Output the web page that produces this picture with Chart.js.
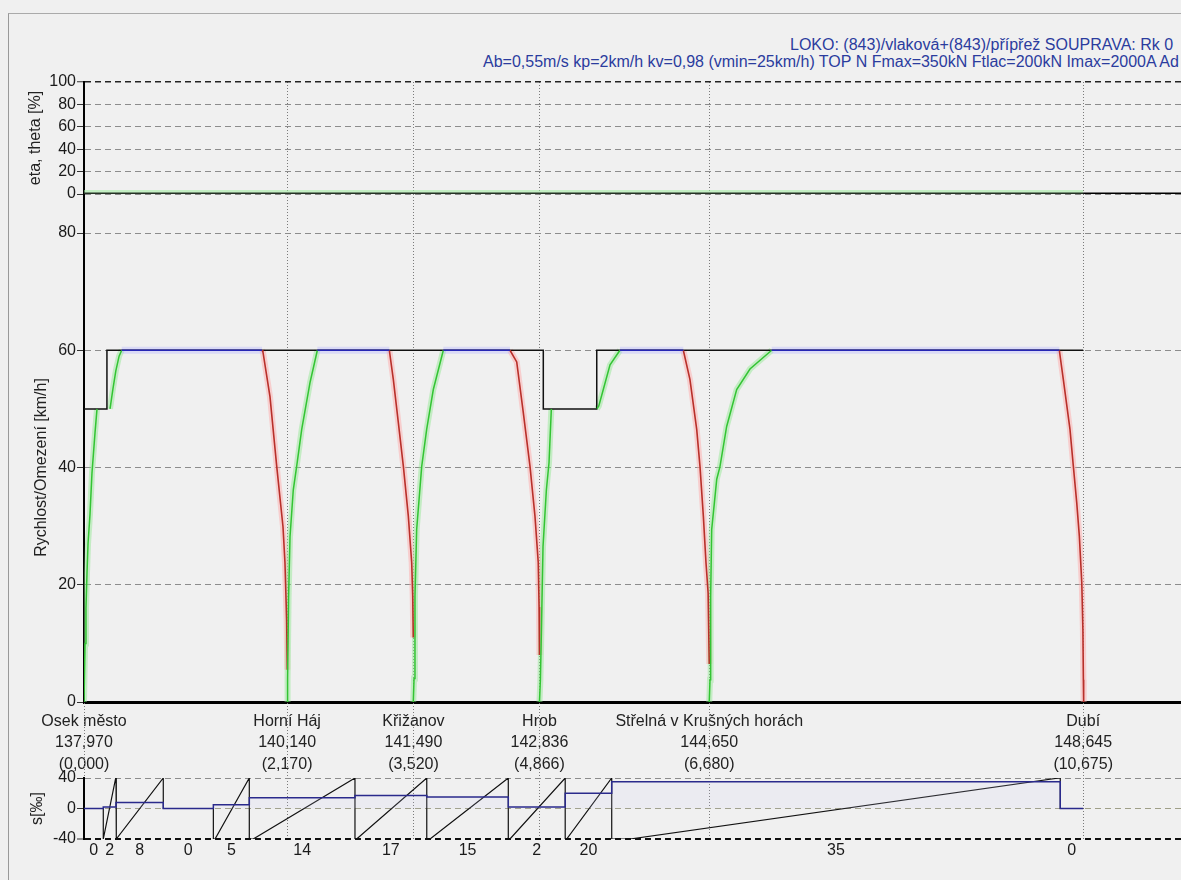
<!DOCTYPE html>
<html>
<head>
<meta charset="utf-8">
<script src="https://cdn.jsdelivr.net/npm/chart.js@4.4.1/dist/chart.umd.min.js"></script>
<style>
  body { margin: 0; background: #f0f0f0; }
  #wrap { position: relative; width: 1181px; height: 880px; overflow: hidden; background: #f0f0f0; font-family: 'Liberation Sans', Arial, sans-serif; }
  #frame { position: absolute; left: 8px; top: 13px; right: -10px; bottom: -10px; border-left: 1px solid #999; border-top: 1px solid #aaa; }
  .head { position: absolute; white-space: nowrap; color: #2b3c9e; font-size: 16px; line-height: 17px; }
  canvas { position: absolute; left: 0; }
</style>
</head>
<body>
<div id="wrap">
  <div id="frame"></div>
  <div class="head" style="left:790px;top:36px">LOKO: (843)/vlaková+(843)/přípřež SOUPRAVA: Rk 0</div>
  <div class="head" style="left:483px;top:53px">Ab=0,55m/s kp=2km/h kv=0,98 (vmin=25km/h) TOP N Fmax=350kN Ftlac=200kN Imax=2000A Ad</div>
  <canvas id="eta" width="1181" height="148" style="top:60px"></canvas>
  <canvas id="speed" width="1181" height="524" style="top:194px"></canvas>
  <canvas id="grad" width="1181" height="177" style="top:703px"></canvas>
</div>
<script>
// x axis is the distance from the start in km
const XMAX = 11.72;

const stationNames = ['Osek město', 'Horní Háj', 'Křižanov', 'Hrob', 'Střelná v Krušných horách', 'Dubí'];
const stationKm = [0, 2.170, 3.520, 4.866, 6.680, 10.675];
const stationChainage = ['137,970', '140,140', '141,490', '142,836', '144,650', '148,645'];

// speed limit (black), each value holds until the next km
const limitKm = [0, 0.245, 4.907, 5.478, 10.675];
const limitV = [50, 60, 50, 60, 60];

// running at 60 km/h (blue)
const cruiseFrom = [0.403, 2.493, 3.839, 5.726, 7.347];
const cruiseTo = [1.902, 3.262, 4.551, 6.403, 10.420];

// accelerating (green)
const acc1Km = [0, 0.011, 0.021, 0.032, 0.043, 0.064, 0.085, 0.118, 0.139];
const acc1V = [0, 10, 16, 22, 27, 32, 39, 46, 50];
const acc2Km = [0.278, 0.310, 0.340, 0.375, 0.403];
const acc2V = [50, 53.5, 56.5, 59, 60];
const acc3Km = [2.172, 2.175, 2.186, 2.201, 2.236, 2.272, 2.326, 2.415, 2.493];
const acc3V = [0, 4, 18, 28.2, 36.2, 40.2, 46.5, 54.5, 60];
const acc4Km = [3.518, 3.526, 3.536, 3.554, 3.608, 3.661, 3.732, 3.839];
const acc4V = [0, 4, 18, 29.4, 40.2, 46.5, 53.3, 60];
const acc5Km = [4.866, 4.876, 4.887, 4.904, 4.940, 4.968, 4.993];
const acc5V = [0, 3.8, 12.3, 26.5, 36.2, 40.8, 50];
const acc6Km = [5.480, 5.500, 5.548, 5.620, 5.726];
const acc6V = [50, 50.5, 53.3, 57.5, 60];
const acc7Km = [6.680, 6.688, 6.695, 6.706, 6.760, 6.795, 6.866, 6.973, 7.115, 7.347];
const acc7V = [0, 3.8, 18, 29.4, 38, 40.2, 47, 53.3, 56.8, 60];

// braking (red)
const brk1Km = [1.902, 1.912, 1.987, 2.059, 2.126, 2.147, 2.165, 2.172];
const brk1V = [60, 59.7, 52.1, 40.2, 29.9, 23.8, 14, 5.5];
const brk2Km = [3.262, 3.305, 3.358, 3.412, 3.465, 3.501, 3.512, 3.518];
const brk2V = [60, 55, 47.7, 40.2, 31.7, 23.8, 18, 11];
const brk3Km = [4.551, 4.623, 4.693, 4.765, 4.818, 4.853, 4.862, 4.866];
const brk3V = [60, 58, 49.4, 40.2, 31.7, 23.8, 16.2, 8];
const brk4Km = [6.403, 6.474, 6.546, 6.581, 6.617, 6.645, 6.668, 6.680];
const brk4V = [60, 55, 46.5, 40.2, 31.7, 23.8, 18.6, 6.5];
const brk5Km = [10.420, 10.463, 10.534, 10.570, 10.606, 10.634, 10.660, 10.672, 10.677, 10.680];
const brk5V = [60, 55, 46.5, 40.2, 34, 28.3, 20.3, 12.3, 3.8, 0];

// eta / theta
const etaKm = [0, 10.675];
const etaVal = [0, 0];
const thetaKm = [10.675, XMAX];
const thetaVal = [0, 0];

// gradient s [promile] per section
const gradKm = [0, 0.206, 0.342, 0.847, 1.382, 1.766, 2.895, 3.662, 4.533, 5.141, 5.638, 10.43, 10.675];
const gradValue = [0, 2, 8, 0, 5, 14, 17, 15, 2, 20, 35, 0];

// the black saw line in the gradient panel
const profKm = [0, 0.206, 0.206, 0.339, 0.342, 0.342, 0.348, 0.847, 0.847, 1.382, 1.382, 1.400, 1.766, 1.766,
  1.808, 2.895, 2.895, 2.913, 3.662, 3.662, 3.697, 4.533, 4.533, 4.551, 5.141, 5.141, 5.157, 5.638, 5.638,
  5.833, 10.417, 10.43, 10.43, 10.675];
const profS = [0, 0, -40, 40, 40, -40, -40, 40, 0, 0, -40, -40, 40, -40,
  -40, 40, -40, -40, 40, -40, -40, 40, -40, -40, 40, -40, -40, 40, -40,
  -40, 40, 40, 0, 0];

Chart.defaults.font.family = "'Liberation Sans', Arial, sans-serif";
Chart.defaults.font.size = 16;
Chart.defaults.color = '#1a1a1a';
Chart.defaults.animation = false;
Chart.defaults.responsive = false;
Chart.defaults.plugins.legend.display = false;
Chart.defaults.plugins.tooltip.enabled = false;

const pts = (xs, ys) => xs.map((x, i) => ({ x: x, y: ys[i] }));

function ds(data, color, width, extra) {
  return Object.assign({
    data: data, borderColor: color, borderWidth: width,
    pointRadius: 0, fill: false, tension: 0
  }, extra || {});
}

// station lines continue outside the plot area (through the label band)
const extendLines = {
  id: 'extendLines',
  afterDraw(chart, args, opts) {
    const { ctx, chartArea } = chart;
    const xs = chart.scales[opts.xAxis || 'x'];
    ctx.save();
    ctx.strokeStyle = '#7a7a7a';
    ctx.lineWidth = 1;
    ctx.setLineDash([1, 2]);
    stationKm.forEach(km => {
      const px = Math.round(xs.getPixelForValue(km)) + 0.5;
      if (opts.up) {
        ctx.beginPath();
        ctx.moveTo(px, chartArea.top - opts.up);
        ctx.lineTo(px, chartArea.top);
        ctx.stroke();
      }
    });
    if (opts.axisUp) {
      ctx.setLineDash([]);
      ctx.strokeStyle = '#000';
      ctx.lineWidth = 2;
      ctx.beginPath();
      ctx.moveTo(chartArea.left, chartArea.top - opts.axisUp);
      ctx.lineTo(chartArea.left, chartArea.top);
      ctx.stroke();
    }
    ctx.restore();
  }
};

function yAxis(min, max, step, title, titlePad, gridColor, gridWidth) {
  return {
    min: min, max: max,
    ticks: { stepSize: step, padding: 1 },
    grid: { color: gridColor, lineWidth: gridWidth || 1, tickLength: 7, tickColor: '#333', tickWidth: 1 },
    border: { display: true, color: '#000', width: 2, dash: [6, 4] },
    title: { display: true, text: title, color: '#222', padding: { top: titlePad, bottom: 0 } },
    afterFit: s => { s.width = 84; }
  };
}

function stationAxis(borderShow) {
  return {
    type: 'linear', min: 0, max: XMAX,
    afterBuildTicks: s => { s.ticks = stationKm.map(v => ({ value: v })); },
    ticks: { display: false },
    grid: { color: '#7a7a7a', lineWidth: 1, drawTicks: false },
    border: { display: borderShow, color: '#000', width: 3, dash: [1, 2] },
    afterFit: s => { s.height = 0; }
  };
}

// eta, theta panel
new Chart(document.getElementById('eta'), {
  type: 'line',
  data: {
    datasets: [
      ds(pts(thetaKm, thetaVal), '#000', 3),
      ds(pts(etaKm, etaVal), '#263226', 3),
      ds(pts(etaKm, etaVal), 'rgba(160,238,160,0.55)', 8)
    ]
  },
  options: {
    layout: { padding: { top: 22, bottom: 14, left: 0, right: 0 } },
    scales: {
      x: stationAxis(false),
      y: yAxis(0, 100, 20, 'eta, theta [%]', 26,
        c => c.tick.value === 100 ? '#222' : '#8c8c8c',
        c => c.tick.value === 100 ? 1.5 : 1)
    }
  }
});

// speed panel
const accel = [[acc1Km, acc1V], [acc2Km, acc2V], [acc3Km, acc3V], [acc4Km, acc4V], [acc5Km, acc5V], [acc6Km, acc6V], [acc7Km, acc7V]];
const brakes = [[brk1Km, brk1V], [brk2Km, brk2V], [brk3Km, brk3V], [brk4Km, brk4V], [brk5Km, brk5V]];
const cruise = cruiseFrom.map((a, i) => [[a, cruiseTo[i]], [60, 60]]);

const speedSets = [];
cruise.forEach(c => speedSets.push(ds(pts(c[0], c[1]), '#2626b4', 1.5)));
accel.forEach(c => speedSets.push(ds(pts(c[0], c[1]), '#33c433', 1.5)));
brakes.forEach(c => speedSets.push(ds(pts(c[0], c[1]), '#b8302a', 1.6)));
speedSets.push(ds(pts(limitKm, limitV), '#111', 1.5, { stepped: true }));
cruise.forEach(c => speedSets.push(ds(pts(c[0], c[1]), 'rgba(185,185,255,0.4)', 7)));
accel.forEach(c => speedSets.push(ds(pts(c[0], c[1]), 'rgba(140,230,140,0.45)', 6)));
brakes.forEach(c => speedSets.push(ds(pts(c[0], c[1]), 'rgba(255,165,165,0.45)', 6)));

new Chart(document.getElementById('speed'), {
  type: 'line',
  data: { datasets: speedSets },
  options: {
    layout: { padding: { top: 39, bottom: 16, left: 0, right: 0 } },
    plugins: { extendLines: { up: 39, axisUp: 39 } },
    scales: {
      x: stationAxis(true),
      y: yAxis(0, 80, 20, 'Rychlost/Omezení [km/h]', 32,
        c => c.tick.value === 0 ? 'rgba(0,0,0,0)' : '#8c8c8c')
    }
  },
  plugins: [extendLines]
});

// gradient panel with station labels above it
const gradPts = pts(gradKm, gradValue.concat([gradValue[gradValue.length - 1]]));
const gradCenters = gradValue.map((v, i) => (gradKm[i] + gradKm[i + 1]) / 2);

new Chart(document.getElementById('grad'), {
  type: 'line',
  data: {
    datasets: [
      ds(gradPts, '#2a2a8c', 1.5, { stepped: true, fill: { value: 0 }, backgroundColor: 'rgba(205,205,250,0.14)', xAxisID: 'x', yAxisID: 'y' }),
      ds(pts(profKm, profS), '#111', 1.2, { xAxisID: 'x', yAxisID: 'y' })
    ]
  },
  options: {
    layout: { padding: 0 },
    plugins: { extendLines: { up: 75, xAxis: 'xs' } },
    scales: {
      xs: {
        type: 'linear', position: 'top', min: 0, max: XMAX,
        afterBuildTicks: s => { s.ticks = stationKm.map(v => ({ value: v })); },
        ticks: {
          autoSkip: false, maxRotation: 0, minRotation: 0, padding: 3, color: '#222',
          font: { size: 16, lineHeight: 1.33 },
          callback: (v, i) => [stationNames[i], stationChainage[i], '(' + stationKm[i].toFixed(3).replace('.', ',') + ')']
        },
        grid: { color: '#7a7a7a', lineWidth: 1, drawTicks: false },
        border: { display: false, dash: [1, 2] },
        afterFit: s => { s.height = 75; }
      },
      x: {
        type: 'linear', position: 'bottom', min: 0, max: XMAX,
        afterBuildTicks: s => { s.ticks = gradCenters.map(v => ({ value: v })); },
        ticks: {
          autoSkip: false, maxRotation: 0, minRotation: 0, padding: 1.5,
          callback: (v, i) => String(gradValue[i])
        },
        grid: { display: false, drawTicks: false },
        border: { display: false },
        afterFit: s => { s.height = 41; }
      },
      y: yAxis(-40, 40, 40, 's[‰]', 28,
        c => c.tick.value === -40 ? '#111' : (c.tick.value === 0 ? '#a0a088' : '#8c8c8c'),
        c => c.tick.value === -40 ? 2 : 1)
    }
  },
  plugins: [extendLines]
});
</script>
</body>
</html>
